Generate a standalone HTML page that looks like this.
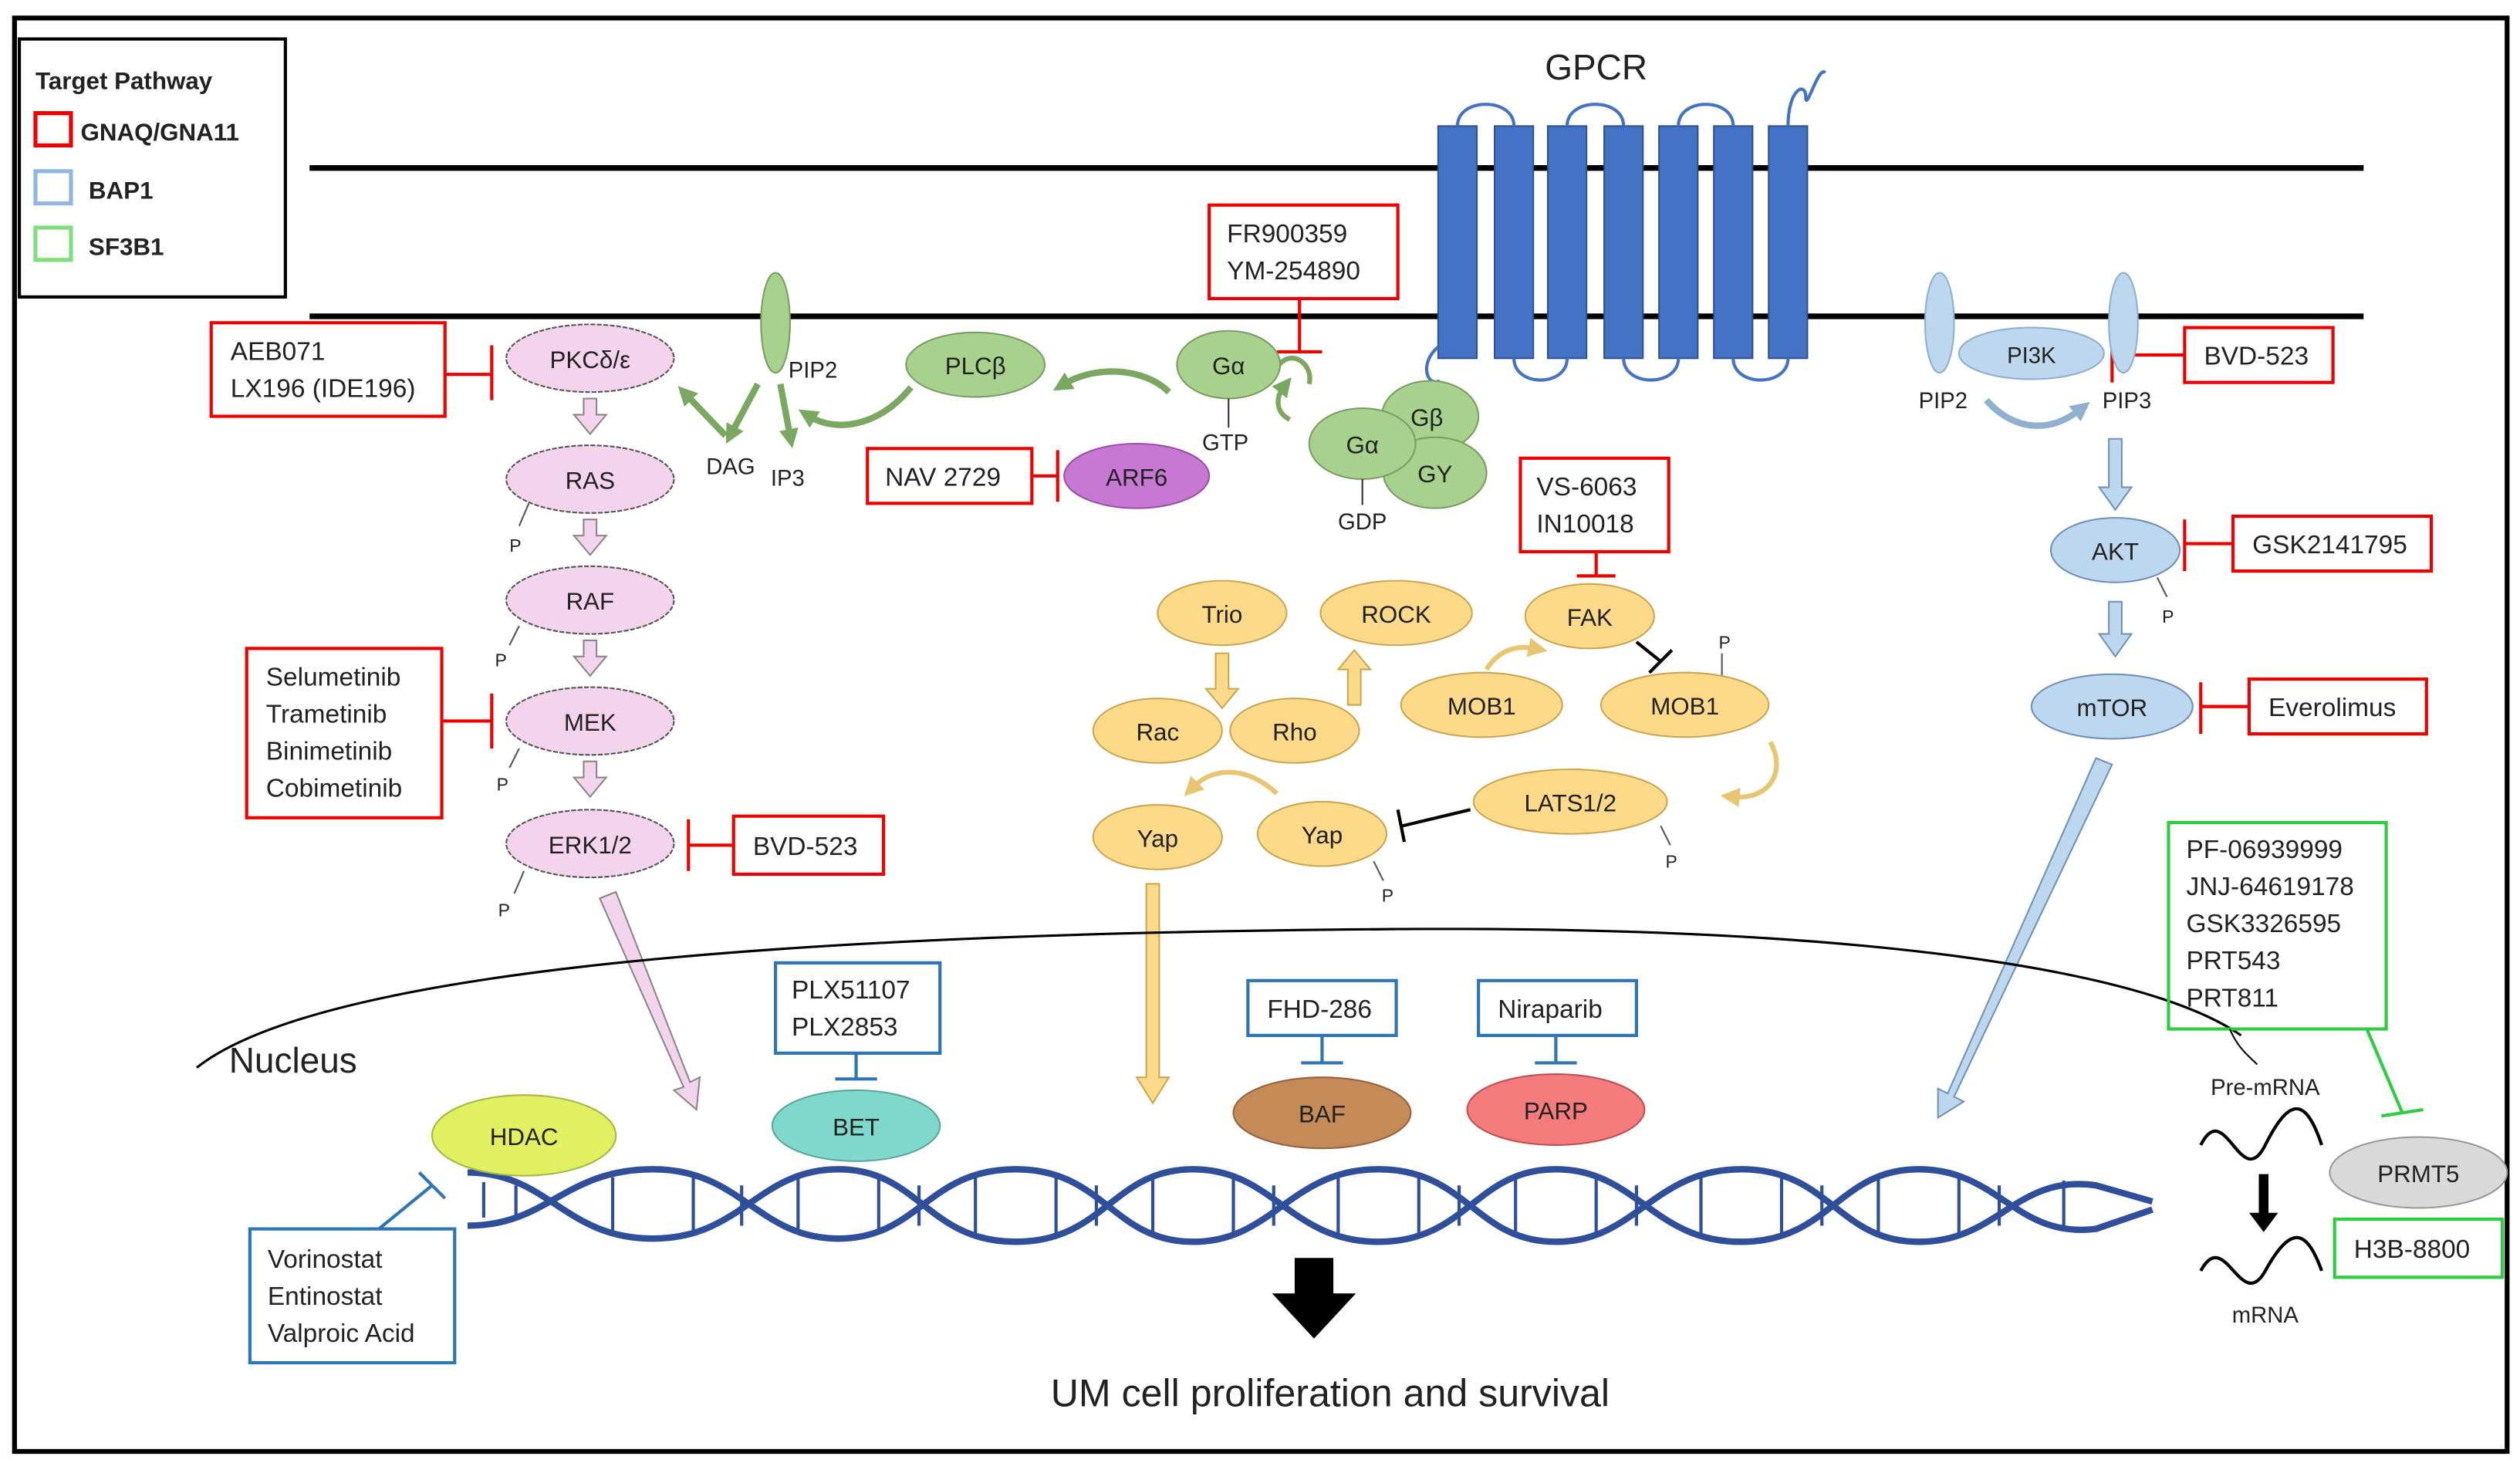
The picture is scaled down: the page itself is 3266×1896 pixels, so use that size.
<!DOCTYPE html>
<html><head><meta charset="utf-8"><style>
html,body{margin:0;padding:0;background:#fff}
svg{display:block}
text{font-family:"Liberation Sans",sans-serif;fill:#222}
</style></head><body>
<svg width="3266" height="1896" viewBox="0 0 1563 907" xmlns="http://www.w3.org/2000/svg">
<defs>
<marker id="ah" markerUnits="userSpaceOnUse" markerWidth="12" markerHeight="12" refX="4" refY="6" orient="auto"><path d="M0,0 L12,6 L0,12 z" fill="#7aa860"/></marker>
<marker id="ahy" markerUnits="userSpaceOnUse" markerWidth="12" markerHeight="12" refX="4" refY="6" orient="auto"><path d="M0,0 L12,6 L0,12 z" fill="#e8c670"/></marker>
<marker id="ahb" markerUnits="userSpaceOnUse" markerWidth="12" markerHeight="12" refX="4" refY="6" orient="auto"><path d="M0,0 L12,6 L0,12 z" fill="#8fb0cf"/></marker>
</defs>
<rect x="0" y="0" width="1563" height="907" fill="#fff"/>
<rect x="9" y="11" width="1546" height="889" fill="none" stroke="#000" stroke-width="3"/>
<!-- legend -->
<rect x="12" y="24" width="165" height="160" fill="#fff" stroke="#000" stroke-width="2"/>
<text x="22" y="55" font-size="15" font-weight="bold">Target Pathway</text>
<rect x="22" y="70" width="22" height="20" fill="none" stroke="#e00" stroke-width="2.5"/>
<text x="50" y="87" font-size="15" font-weight="bold">GNAQ/GNA11</text>
<rect x="22" y="106" width="22" height="20" fill="none" stroke="#8fb8e0" stroke-width="2.5"/>
<text x="55" y="123" font-size="15" font-weight="bold">BAP1</text>
<rect x="22" y="141" width="22" height="20" fill="none" stroke="#7ee07e" stroke-width="2.5"/>
<text x="55" y="158" font-size="15" font-weight="bold">SF3B1</text>
<!-- membrane -->
<line x1="192" y1="104" x2="1466" y2="104" stroke="#000" stroke-width="3.5"/>
<line x1="192" y1="196" x2="1466" y2="196" stroke="#000" stroke-width="3.5"/>
<text x="990" y="49" font-size="22" text-anchor="middle">GPCR</text>
<!-- GPCR -->
<g fill="#4472c4" stroke="#2f528f" stroke-width="1">
<rect x="892" y="78" width="24" height="144"/><rect x="927" y="78" width="24" height="144"/><rect x="960" y="78" width="24" height="144"/><rect x="995" y="78" width="24" height="144"/><rect x="1029" y="78" width="24" height="144"/><rect x="1063" y="78" width="24" height="144"/><rect x="1097" y="78" width="24" height="144"/>
</g>
<g fill="none" stroke="#4472c4" stroke-width="2">
<path d="M904,78 C904,60 939,60 939,78"/><path d="M972,78 C972,60 1007,60 1007,78"/><path d="M1041,78 C1041,60 1075,60 1075,78"/>
<path d="M939,222 C939,240 972,240 972,222"/><path d="M1007,222 C1007,240 1041,240 1041,222"/><path d="M1075,222 C1075,240 1109,240 1109,222"/>
<path d="M1109,78 C1109,55 1120,50 1120,60 C1120,70 1128,40 1132,45"/>
<path d="M892,215 C880,225 885,240 893,236"/>
</g>
<!-- left pink column -->
<g fill="#f4d4ec" stroke="#555" stroke-width="1" stroke-dasharray="3,1">
<ellipse cx="366" cy="222" rx="52" ry="21"/><ellipse cx="366" cy="297" rx="52" ry="21"/><ellipse cx="366" cy="372" rx="52" ry="21"/><ellipse cx="366" cy="447" rx="52" ry="21"/><ellipse cx="366" cy="523" rx="52" ry="21"/>
</g>
<g font-size="15" text-anchor="middle">
<text x="366" y="228">PKCδ/ε</text><text x="366" y="303">RAS</text><text x="366" y="378">RAF</text><text x="366" y="453">MEK</text><text x="366" y="529">ERK1/2</text>
</g>
<g fill="#f4d4ec" stroke="#888" stroke-width="1">
<path d="M362,247 h8 v10 h6 l-10,12 l-10,-12 h6z"/><path d="M362,322 h8 v10 h6 l-10,12 l-10,-12 h6z"/><path d="M362,397 h8 v10 h6 l-10,12 l-10,-12 h6z"/><path d="M362,472 h8 v10 h6 l-10,12 l-10,-12 h6z"/>
<path d="M372,557 l10,-4 l46,118 l6,-3 l-2,20 l-14,-12 l6,-2z"/>
</g>
<g font-size="11" stroke="#555" fill="none"><path d="M328,312 l-6,14"/><path d="M322,388 l-6,12"/><path d="M322,464 l-6,12"/><path d="M325,540 l-6,14"/><path d="M1338,358 l6,12"/><path d="M1030,512 l6,12"/><path d="M852,534 l6,12"/><path d="M1068,405 l0,15"/></g>
<g font-size="11"><text x="316" y="342">P</text><text x="307" y="413">P</text><text x="308" y="490">P</text><text x="309" y="568">P</text><text x="1341" y="386">P</text><text x="1033" y="538">P</text><text x="857" y="559">P</text><text x="1066" y="402">P</text></g>
<!-- red boxes -->
<g fill="none" stroke="#e00" stroke-width="2">
<rect x="131" y="200" width="145" height="58"/><path d="M276,232 h28 M305,214 v34"/>
<rect x="153" y="402" width="121" height="105"/><path d="M274,447 h30 M305,430 v34"/>
<rect x="455" y="506" width="93" height="36"/><path d="M455,524 h-28 M427,508 v32"/>
<rect x="538" y="278" width="102" height="34"/><path d="M640,295 h16 M656,279 v32"/>
<rect x="750" y="127" width="117" height="58"/><path d="M806,185 v32 M792,218 h28"/>
<rect x="943" y="284" width="92" height="58"/><path d="M990,342 v15 M978,357 h24"/>
<rect x="1355" y="203" width="92" height="34"/><path d="M1355,220 h-45 M1310,205 v32"/>
<rect x="1385" y="320" width="123" height="34"/><path d="M1385,337 h-30 M1355,322 v32"/>
<rect x="1395" y="421" width="110" height="34"/><path d="M1395,438 h-30 M1365,423 v32"/>
</g>
<g font-size="16">
<text x="143" y="223">AEB071</text><text x="143" y="246">LX196 (IDE196)</text>
<text x="165" y="425">Selumetinib</text><text x="165" y="448">Trametinib</text><text x="165" y="471">Binimetinib</text><text x="165" y="494">Cobimetinib</text>
<text x="467" y="530">BVD-523</text>
<text x="549" y="301">NAV 2729</text>
<text x="761" y="150">FR900359</text><text x="761" y="173">YM-254890</text>
<text x="953" y="307">VS-6063</text><text x="953" y="330">IN10018</text>
<text x="1367" y="226">BVD-523</text>
<text x="1397" y="343">GSK2141795</text>
<text x="1407" y="444">Everolimus</text>
</g>
<!-- green -->
<ellipse cx="481" cy="200" rx="9" ry="31" fill="#a9d18e" stroke="#7a9e63"/>
<text x="489" y="234" font-size="14">PIP2</text>
<text x="438" y="294" font-size="14">DAG</text><text x="478" y="301" font-size="14">IP3</text>
<g stroke="#7aa860" stroke-width="4" fill="none">
<path d="M470,238 L454,268" marker-end="url(#ah)"/><path d="M484,238 L490,270" marker-end="url(#ah)"/>
<path d="M450,270 L426,245" marker-end="url(#ah)"/>
<path d="M565,240 C545,265 518,268 502,258" marker-end="url(#ah)"/>
<path d="M725,243 C710,228 680,226 660,238" marker-end="url(#ah)"/>
<path d="M792,228 C800,215 815,225 812,238" stroke-width="3"/><path d="M800,260 C790,255 792,245 796,240" stroke-width="3" marker-end="url(#ah)"/>
</g>
<g fill="#a9d18e" stroke="#7a9e63">
<ellipse cx="605" cy="226" rx="43" ry="20"/><ellipse cx="762" cy="226" rx="32" ry="21"/>
<ellipse cx="887" cy="258" rx="30" ry="22"/><ellipse cx="890" cy="293" rx="32" ry="22"/><ellipse cx="845" cy="275" rx="33" ry="22"/>
</g>
<ellipse cx="705" cy="295" rx="45" ry="20" fill="#c678d2" stroke="#9a50a8"/>
<g font-size="15" text-anchor="middle">
<text x="605" y="232">PLCβ</text><text x="762" y="232">Gα</text><text x="885" y="264">Gβ</text><text x="890" y="299">GY</text><text x="845" y="281">Gα</text><text x="705" y="301">ARF6</text>
</g>
<text x="760" y="279" font-size="14" text-anchor="middle">GTP</text><line x1="762" y1="247" x2="762" y2="265" stroke="#333"/>
<text x="845" y="328" font-size="14" text-anchor="middle">GDP</text><line x1="845" y1="297" x2="845" y2="313" stroke="#333"/>
<!-- yellow -->
<g fill="#fdd98a" stroke="#c9a850">
<ellipse cx="758" cy="380" rx="40" ry="20"/><ellipse cx="866" cy="380" rx="47" ry="20"/><ellipse cx="986" cy="382" rx="40" ry="20"/>
<ellipse cx="919" cy="437" rx="50" ry="20"/><ellipse cx="1045" cy="437" rx="52" ry="20"/>
<ellipse cx="718" cy="453" rx="40" ry="20"/><ellipse cx="803" cy="453" rx="40" ry="20"/>
<ellipse cx="974" cy="497" rx="60" ry="20"/>
<ellipse cx="718" cy="519" rx="40" ry="20"/><ellipse cx="820" cy="517" rx="40" ry="20"/>
<path d="M754,405 h8 v22 h6 l-10,12 l-10,-12 h6z"/><path d="M836,437 h8 v-22 h6 l-10,-12 l-10,12 h6z"/>
<path d="M711,548 h8 v120 h6 l-10,16 l-10,-16 h6z"/>
</g>
<g font-size="15" text-anchor="middle">
<text x="758" y="386">Trio</text><text x="866" y="386">ROCK</text><text x="986" y="388">FAK</text><text x="919" y="443">MOB1</text><text x="1045" y="443">MOB1</text><text x="718" y="459">Rac</text><text x="803" y="459">Rho</text><text x="974" y="503">LATS1/2</text><text x="718" y="525">Yap</text><text x="820" y="523">Yap</text>
</g>
<g stroke="#e8c670" stroke-width="3" fill="none">
<path d="M922,415 C930,402 942,400 952,402" marker-end="url(#ahy)"/>
<path d="M1098,460 C1108,478 1098,496 1075,494" marker-end="url(#ahy)"/>
<path d="M792,492 C772,474 752,476 740,488" marker-end="url(#ahy)"/>
</g>
<path d="M1015,398 L1030,410 M1023,417 L1037,403" stroke="#000" stroke-width="2"/>
<path d="M912,502 L870,512 M867,502 L871,522" stroke="#000" stroke-width="2"/>
<!-- right blue -->
<ellipse cx="1203" cy="200" rx="9" ry="31" fill="#bdd7ee" stroke="#8fb0cf"/>
<ellipse cx="1317" cy="200" rx="9" ry="31" fill="#bdd7ee" stroke="#8fb0cf"/>
<ellipse cx="1260" cy="219" rx="45" ry="16" fill="#bdd7ee" stroke="#8fb0cf"/>
<text x="1260" y="225" font-size="14" text-anchor="middle">PI3K</text>
<text x="1190" y="253" font-size="14">PIP2</text><text x="1304" y="253" font-size="14">PIP3</text>
<path d="M1232,248 C1250,268 1272,268 1290,254" stroke="#8fb0cf" stroke-width="4" fill="none" marker-end="url(#ahb)"/>
<g fill="#bdd7ee" stroke="#6f93b8">
<ellipse cx="1312" cy="341" rx="40" ry="20"/><ellipse cx="1310" cy="438" rx="50" ry="20"/>
<path d="M1308,272 h8 v30 h6 l-10,14 l-10,-14 h6z"/><path d="M1308,373 h8 v20 h6 l-10,14 l-10,-14 h6z"/>
<path d="M1300,470 l10,4 l-98,206 l6,3 l-16,10 l0,-18 l6,3z"/>
</g>
<text x="1312" y="347" font-size="15" text-anchor="middle">AKT</text><text x="1310" y="444" font-size="15" text-anchor="middle">mTOR</text>
<!-- nucleus -->
<path d="M122,662 C200,600 500,578 880,576 C1150,575 1330,600 1390,642" fill="none" stroke="#000" stroke-width="1.5"/>
<text x="142" y="665" font-size="22">Nucleus</text>
<!-- DNA -->
<g fill="none" stroke="#2f4f9a" stroke-width="4">
<path d="M290,727 C340,727 350,768 405,768 S470,725 520,725 S575,770 630,770 S690,725 740,725 S800,770 855,770 S915,725 965,725 S1025,770 1080,770 S1140,725 1190,725 S1250,768 1300,762 L1335,750"/>
<path d="M290,760 C340,760 350,725 405,725 S470,768 520,768 S575,725 630,725 S690,770 740,770 S800,725 855,725 S915,770 965,770 S1025,725 1080,725 S1140,770 1190,770 S1250,728 1300,735 L1335,745"/>
</g>
<g stroke="#2f4f9a" stroke-width="2"><path d="M300,733v22M320,735v20M380,730v35M430,730v35M460,735v25M495,730v35M545,730v35M570,735v25M605,730v35M655,730v35M680,735v25M715,730v35M765,730v35M790,735v25M830,730v35M880,730v35M905,735v25M940,730v35M990,730v35M1015,735v25M1055,730v35M1105,730v35M1130,735v25M1165,730v35M1215,730v35M1240,735v25M1280,732v30"/></g>
<!-- nucleus proteins -->
<rect x="481" y="597" width="102" height="56" fill="none" stroke="#2e75b6" stroke-width="2"/>
<text x="491" y="619" font-size="16">PLX51107</text><text x="491" y="642" font-size="16">PLX2853</text>
<path d="M531,653 v15 M518,669 h26" stroke="#2e75b6" stroke-width="2"/>
<ellipse cx="531" cy="698" rx="52" ry="22" fill="#7fd8cc" stroke="#5aa89c"/><text x="531" y="704" font-size="15" text-anchor="middle">BET</text>
<rect x="774" y="608" width="92" height="34" fill="none" stroke="#2e75b6" stroke-width="2"/><text x="786" y="631" font-size="16">FHD-286</text>
<path d="M820,642 v16 M807,659 h26" stroke="#2e75b6" stroke-width="2"/>
<ellipse cx="820" cy="690" rx="55" ry="22" fill="#c48a58" stroke="#96643a"/><text x="820" y="696" font-size="15" text-anchor="middle">BAF</text>
<rect x="917" y="608" width="98" height="34" fill="none" stroke="#2e75b6" stroke-width="2"/><text x="929" y="631" font-size="16">Niraparib</text>
<path d="M965,642 v16 M952,659 h26" stroke="#2e75b6" stroke-width="2"/>
<ellipse cx="965" cy="688" rx="55" ry="22" fill="#f47c7c" stroke="#c05050"/><text x="965" y="694" font-size="15" text-anchor="middle">PARP</text>
<ellipse cx="325" cy="704" rx="57" ry="25" fill="#e0f060" stroke="#a8b840"/><text x="325" y="710" font-size="15" text-anchor="middle">HDAC</text>
<rect x="155" y="762" width="127" height="83" fill="none" stroke="#2e75b6" stroke-width="2"/>
<text x="166" y="786" font-size="16">Vorinostat</text><text x="166" y="809" font-size="16">Entinostat</text><text x="166" y="832" font-size="16">Valproic Acid</text>
<path d="M235,762 L268,735 M260,727 L276,743" stroke="#2e75b6" stroke-width="2"/>
<!-- black arrow -->
<path d="M803,780 h24 v22 h14 l-26,28 l-26,-28 h14z" fill="#000"/>
<text x="825" y="872" font-size="24" text-anchor="middle">UM cell proliferation and survival</text>
<!-- SF3B1 -->
<rect x="1345" y="510" width="135" height="128" fill="none" stroke="#2ecc40" stroke-width="2"/>
<g font-size="16"><text x="1356" y="532">PF-06939999</text><text x="1356" y="555">JNJ-64619178</text><text x="1356" y="578">GSK3326595</text><text x="1356" y="601">PRT543</text><text x="1356" y="624">PRT811</text></g>
<path d="M1468,638 L1490,690 M1477,692 L1503,688" stroke="#2ecc40" stroke-width="2"/>
<path d="M1383,638 C1388,650 1395,655 1400,660" stroke="#000" fill="none"/>
<ellipse cx="1500" cy="727" rx="55" ry="22" fill="#d9d9d9" stroke="#999"/><text x="1500" y="733" font-size="15" text-anchor="middle">PRMT5</text>
<rect x="1448" y="756" width="104" height="36" fill="none" stroke="#2ecc40" stroke-width="2"/><text x="1460" y="780" font-size="16">H3B-8800</text>
<text x="1405" y="679" font-size="14" text-anchor="middle">Pre-mRNA</text>
<path d="M1365,710 C1380,680 1390,740 1405,710 S1430,680 1440,710" fill="none" stroke="#000" stroke-width="2"/>
<path d="M1401,728 h6 v24 h6 l-9,12 l-9,-12 h6z" fill="#000"/>
<path d="M1365,788 C1380,760 1390,815 1405,788 S1430,760 1440,788" fill="none" stroke="#000" stroke-width="2"/>
<text x="1405" y="820" font-size="14" text-anchor="middle">mRNA</text>
</svg>
</body></html>
